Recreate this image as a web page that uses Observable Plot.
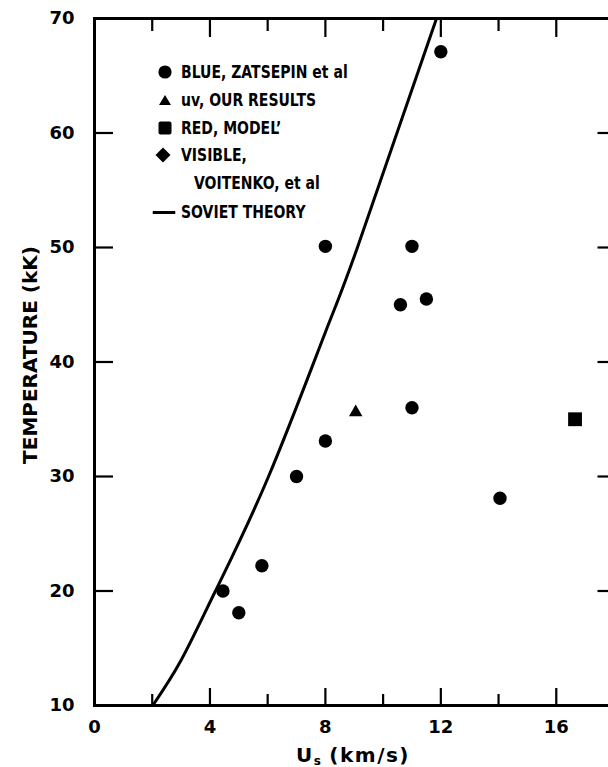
<!DOCTYPE html>
<html>
<head>
<meta charset="utf-8">
<script src="https://cdn.jsdelivr.net/npm/d3@7"></script>
<script src="https://cdn.jsdelivr.net/npm/@observablehq/plot@0.6"></script>
<style>
  html, body { margin: 0; padding: 0; overflow: hidden; background: white; }
  #wrap { position: relative; width: 608px; height: 767px; overflow: hidden; background: white;
          font-family: "DejaVu Sans", sans-serif; font-weight: bold; color: black; }
  #chart { position: absolute; left: 0; top: 0; }
  #chart svg { max-width: none !important; }
  .ttl { position: absolute; white-space: nowrap; line-height: 20px; font-size: 20px; }
  #xtitle { left: 353px; top: 745px; transform: translateX(-50%); letter-spacing: 1.5px; }
  #xtitle sub { font-size: 12px; vertical-align: -3px; line-height: 0; letter-spacing: 0; }
  #ytitle { left: 30px; top: 355px; transform: translate(-50%, -50%) rotate(-90deg); }
  .lg { position: absolute; white-space: nowrap; font-size: 14px; line-height: 14px; transform: translateY(-50%) scaleY(1.2); transform-origin: left center; }
  .sym { position: absolute; transform: translate(-50%, -50%); }
</style>
</head>
<body>
<div id="wrap">
  <div id="chart"></div>
  <div id="ytitle" class="ttl"></div>
  <div id="xtitle" class="ttl"></div>
  <div id="legend"></div>
</div>
<script>
// ---- data ----
const xTickLabels = [0, 4, 8, 12, 16];
const xMinorTicks = [2, 6, 10, 14];
const yTickValues = [10, 20, 30, 40, 50, 60, 70];

// BLUE, ZATSEPIN et al (circles)
const blueU = [12.0, 8.0, 11.0, 10.6, 11.5, 11.0, 8.0, 7.0, 5.8, 4.45, 5.0, 14.05];
const blueT = [67.1, 50.1, 50.1, 45.0, 45.5, 36.0, 33.1, 30.0, 22.2, 20.0, 18.1, 28.1];
// uv, OUR RESULTS (triangle)
const uvU = [9.05];
const uvT = [35.6];
// RED, MODEL' (square)
const redU = [16.65];
const redT = [35.0];
// VISIBLE, VOITENKO et al (diamond) – none visible
const visU = [];
const visT = [];
// SOVIET THEORY (line)
const theoryU = [2.02, 3.0, 4.19, 6.03, 8.0, 9.11, 11.85];
const theoryT = [10.0, 13.95, 20.0, 30.0, 42.6, 50.0, 70.0];

const legendLabels = ["BLUE, ZATSEPIN et al", "uv, OUR RESULTS", "RED, MODEL\u2019", "VISIBLE,", "VOITENKO, et al", "SOVIET THEORY"];
const xTitleMain = "U";
const xTitleSub = "s";
const xTitleRest = " (km/s)";
const yTitle = "TEMPERATURE (kK)";

// ---- build ----
const zip = (xs, ys) => xs.map((x, i) => ({x, y: ys[i]}));
const blue = zip(blueU, blueT), uv = zip(uvU, uvT), red = zip(redU, redT), vis = zip(visU, visT);
const theory = zip(theoryU, theoryT);

const W = 615, H = 767, mL = 94, mR = 1.5, mT = 18, mB = 62;
const innerW = W - mL - mR, innerH = H - mT - mB;

const chart = Plot.plot({
  width: W, height: H,
  marginLeft: mL, marginRight: mR, marginTop: mT, marginBottom: mB,
  x: {domain: [0, 18]},
  y: {domain: [10, 70]},
  style: {fontFamily: "DejaVu Sans, sans-serif", fontWeight: "bold", color: "black", background: "white", overflow: "hidden"},
  marks: [
    Plot.axisX({ticks: xTickLabels, tickSize: 0, tickPadding: 15, fontSize: 18, label: null}),
    Plot.axisY({ticks: yTickValues, tickSize: 0, tickPadding: 20, fontSize: 18, label: null}),
    // inward ticks
    Plot.tickX(xTickLabels, {x: d => d, insetTop: innerH - 17, strokeWidth: 2.2}),
    Plot.tickX(xMinorTicks, {x: d => d, insetTop: innerH - 11, strokeWidth: 2.2}),
    Plot.tickX(xTickLabels, {x: d => d, insetBottom: innerH - 19, strokeWidth: 2.2}),
    Plot.tickX(xMinorTicks, {x: d => d, insetBottom: innerH - 13, strokeWidth: 2.2}),
    Plot.tickY(yTickValues, {y: d => d, insetRight: innerW - 19, strokeWidth: 2.2}),
    Plot.tickY(yTickValues, {y: d => d, insetLeft: innerW - 16, strokeWidth: 2.2}),
    Plot.line(theory, {x: "x", y: "y", strokeWidth: 3, curve: "natural"}),
    Plot.dot(blue, {x: "x", y: "y", r: 6.7, fill: "black", stroke: "none", symbol: "circle"}),
    Plot.dot(uv, {x: "x", y: "y", r: 5, fill: "black", stroke: "none", symbol: "triangle"}),
    Plot.dot(red, {x: "x", y: "y", r: 7.8, fill: "black", stroke: "none", symbol: "square"}),
    Plot.dot(vis, {x: "x", y: "y", r: 6.5, fill: "black", stroke: "none", symbol: "diamond"}),
    Plot.frame({strokeWidth: 3})
  ]
});
chart.style.maxWidth = "none";
document.getElementById("chart").appendChild(chart);

// titles
const xt = document.getElementById("xtitle");
xt.appendChild(document.createTextNode(xTitleMain));
const sub = document.createElement("sub"); sub.textContent = xTitleSub; xt.appendChild(sub);
xt.appendChild(document.createTextNode(xTitleRest));
document.getElementById("ytitle").textContent = yTitle;

// legend (HTML overlay inside the plot frame)
const legendRows = [72, 100, 128, 155, 183, 212];
const legendTextX = [181, 181, 181, 181, 194, 181];
const legendSymbols = [
  '<svg width="14" height="14"><circle cx="7" cy="7" r="6.6" fill="black"/></svg>',
  '<svg width="14" height="12"><path d="M7,1 L13,11 L1,11 Z" fill="black"/></svg>',
  '<svg width="14" height="14"><rect x="0.5" y="0.5" width="13" height="13" rx="2" fill="black"/></svg>',
  '<svg width="16" height="16"><path d="M8,0.5 L15.5,8 L8,15.5 L0.5,8 Z" fill="black"/></svg>',
  null,
  '<svg width="23" height="4"><rect x="0" y="0.5" width="23" height="3" fill="black"/></svg>'
];
const symX = [165, 165, 165, 163, null, 164];
const lg = document.getElementById("legend");
legendLabels.forEach((t, i) => {
  const d = document.createElement("div");
  d.className = "lg";
  d.style.left = legendTextX[i] + "px";
  d.style.top = legendRows[i] + "px";
  d.textContent = t;
  lg.appendChild(d);
  if (legendSymbols[i]) {
    const s = document.createElement("div");
    s.className = "sym";
    s.style.left = symX[i] + "px";
    s.style.top = legendRows[i] + "px";
    s.style.lineHeight = "0";
    s.innerHTML = legendSymbols[i];
    lg.appendChild(s);
  }
});
</script>
</body>
</html>
